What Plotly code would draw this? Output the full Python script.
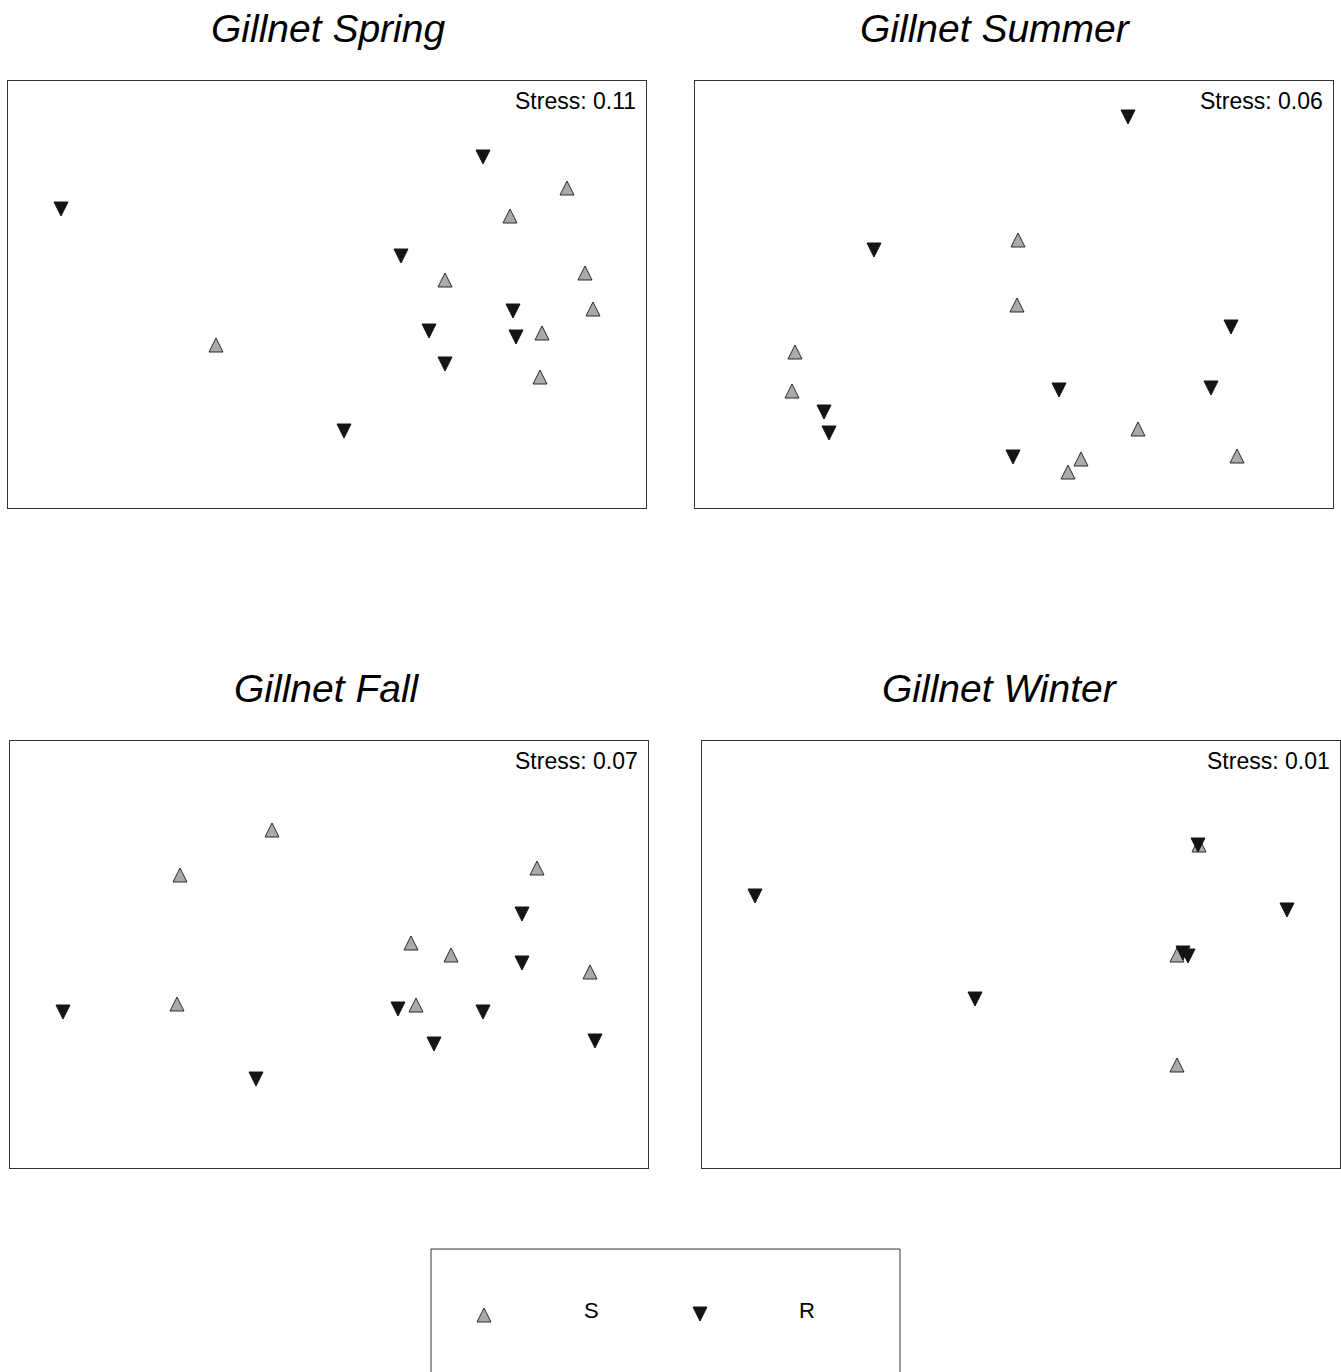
import plotly.graph_objects as go

W, H = 1341, 1372

# ---- data (NMDS-style coordinates per panel) ----
spring_S_x = [5.59, 5.02, 5.77, 4.37, 5.85, 5.34, 2.08, 5.32]
spring_S_y = [3.20, 2.92, 2.35, 2.28, 1.99, 1.75, 1.63, 1.31]
spring_R_x = [0.53, 4.75, 3.93, 5.05, 4.21, 5.08, 4.37, 3.36]
spring_R_y = [2.99, 3.51, 2.52, 1.97, 1.77, 1.71, 1.44, 0.77]

summer_S_x = [3.23, 3.22, 1.00, 0.97, 4.43, 3.86, 3.73, 5.42]
summer_S_y = [2.68, 2.03, 1.56, 1.17, 0.79, 0.49, 0.36, 0.52]
summer_R_x = [4.33, 1.79, 5.36, 3.64, 5.16, 1.29, 1.34, 3.18]
summer_R_y = [3.91, 2.58, 1.81, 1.18, 1.20, 0.96, 0.75, 0.51]

fall_S_x = [2.62, 1.70, 5.27, 4.01, 4.41, 5.80, 1.67, 4.06]
fall_S_y = [3.38, 2.93, 3.00, 2.25, 2.13, 1.96, 1.64, 1.63]
fall_R_x = [5.12, 5.12, 0.53, 3.88, 4.73, 4.24, 5.85, 2.46]
fall_R_y = [2.54, 2.05, 1.56, 1.59, 1.56, 1.24, 1.27, 0.89]

winter_S_x = [4.97, 4.75, 4.75]
winter_S_y = [3.23, 2.13, 1.03]
winter_R_x = [0.53, 4.96, 5.85, 4.81, 4.86, 2.73]
winter_R_y = [2.72, 3.23, 2.58, 2.15, 2.12, 1.69]

titles = ["Gillnet Spring", "Gillnet Summer", "Gillnet Fall", "Gillnet Winter"]
stress = ["Stress: 0.11", "Stress: 0.06", "Stress: 0.07", "Stress: 0.01"]
groups = ["S", "R"]

# ---- layout geometry (pixels); axis units are 100 px each ----
PX_PER_UNIT = 100.0
boxes = [(8, 81, 646, 508), (695, 81, 1333, 508), (10, 741, 648, 1168), (702, 741, 1340, 1168)]
title_cx = [328, 995, 327, 1000]
title_cy = [28, 28, 688, 688]

MSIZE = 14
# arrow symbols are anchored at their tip; shift so the triangle is centred on the point
anchor_shift = (MSIZE / 2.0) / PX_PER_UNIT

S_col = "#aaaaaa"
R_col = "#141414"
S_marker = dict(symbol="arrow-up", size=MSIZE, color=S_col, line=dict(color="#2a2a2a", width=1))
R_marker = dict(symbol="arrow-down", size=MSIZE, color=R_col, line=dict(color=R_col, width=1))


def up(vals):
    return [v + anchor_shift for v in vals]


def down(vals):
    return [v - anchor_shift for v in vals]


fig = go.Figure()
panels = [
    (spring_S_x, spring_S_y, spring_R_x, spring_R_y),
    (summer_S_x, summer_S_y, summer_R_x, summer_R_y),
    (fall_S_x, fall_S_y, fall_R_x, fall_R_y),
    (winter_S_x, winter_S_y, winter_R_x, winter_R_y),
]

annotations = []
layout_axes = {}
for i, ((sx, sy, rx, ry), (l, t, r, b)) in enumerate(zip(panels, boxes)):
    n = i + 1
    xa = "x" if n == 1 else f"x{n}"
    ya = "y" if n == 1 else f"y{n}"
    fig.add_trace(go.Scatter(x=sx, y=up(sy), mode="markers", marker=S_marker, xaxis=xa, yaxis=ya,
                             showlegend=False, name=groups[0]))
    fig.add_trace(go.Scatter(x=rx, y=down(ry), mode="markers", marker=R_marker, xaxis=xa, yaxis=ya,
                             showlegend=False, name=groups[1]))
    axcommon = dict(showgrid=False, zeroline=False, showticklabels=False, ticks="",
                    showline=True, mirror=True, linecolor="#333333", linewidth=1, fixedrange=True)
    layout_axes["xaxis" if n == 1 else f"xaxis{n}"] = dict(
        domain=[l / W, r / W], range=[0, (r - l) / PX_PER_UNIT], anchor=ya, **axcommon)
    layout_axes["yaxis" if n == 1 else f"yaxis{n}"] = dict(
        domain=[1 - b / H, 1 - t / H], range=[0, (b - t) / PX_PER_UNIT], anchor=xa, **axcommon)
    annotations.append(dict(text=f"<i>{titles[i]}</i>", x=title_cx[i] / W, y=1 - title_cy[i] / H,
                            xref="paper", yref="paper", xanchor="center", yanchor="middle",
                            showarrow=False, font=dict(size=39, color="#000")))
    annotations.append(dict(text=stress[i], x=(r - 8) / W, y=1 - (t + 20) / H,
                            xref="paper", yref="paper", xanchor="right", yanchor="middle",
                            showarrow=False, font=dict(size=23, color="#000")))

# ---- legend panel ----
leg_l, leg_t, leg_r = 431, 1249, 900
leg_marker_x = [0.53, 2.69]
leg_marker_y = [0.57, 0.58]
leg_label_x = [1.60, 3.76]
fig.add_trace(go.Scatter(x=[leg_marker_x[0]], y=up([leg_marker_y[0]]), mode="markers", marker=S_marker,
                         xaxis="x5", yaxis="y5", showlegend=False, name=groups[0]))
fig.add_trace(go.Scatter(x=[leg_marker_x[1]], y=down([leg_marker_y[1]]), mode="markers", marker=R_marker,
                         xaxis="x5", yaxis="y5", showlegend=False, name=groups[1]))
layout_axes["xaxis5"] = dict(domain=[leg_l / W, leg_r / W], range=[0, (leg_r - leg_l) / PX_PER_UNIT],
                             anchor="y5", visible=False, fixedrange=True)
layout_axes["yaxis5"] = dict(domain=[0, 1 - leg_t / H], range=[0, (H - leg_t) / PX_PER_UNIT],
                             anchor="x5", visible=False, fixedrange=True)
for gx, g in zip(leg_label_x, groups):
    annotations.append(dict(text=g, x=gx, y=0.62, xref="x5", yref="y5", xanchor="center",
                            yanchor="middle", showarrow=False, font=dict(size=22, color="#000")))

shapes = [dict(type="rect", xref="paper", yref="paper", x0=leg_l / W, x1=leg_r / W,
               y0=-0.02, y1=1 - leg_t / H, line=dict(color="#333333", width=1),
               fillcolor="rgba(0,0,0,0)", layer="below")]

fig.update_layout(
    width=W, height=H, margin=dict(l=0, r=0, t=0, b=0),
    paper_bgcolor="white", plot_bgcolor="white",
    font=dict(family="Liberation Sans, Arial, sans-serif", color="#000"),
    annotations=annotations, shapes=shapes, showlegend=False,
    **layout_axes,
)

fig.write_html("out.html", config={"displayModeBar": False})
